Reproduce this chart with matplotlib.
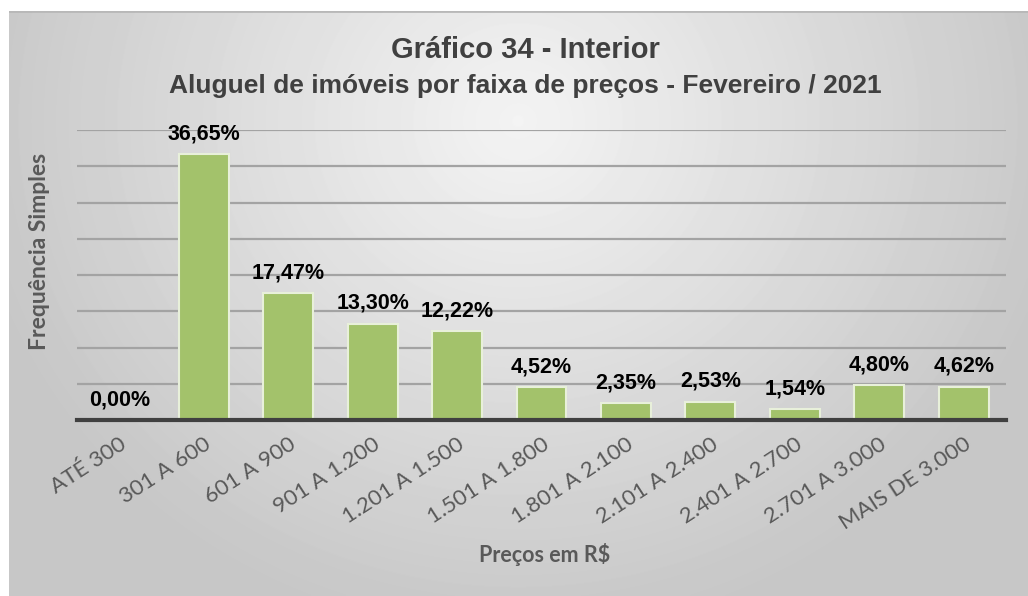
import numpy as np
import matplotlib.pyplot as plt

# Dados do gráfico
faixas = [
    "ATÉ 300", "301 A 600", "601 A 900", "901 A 1.200", "1.201 A 1.500",
    "1.501 A 1.800", "1.801 A 2.100", "2.101 A 2.400", "2.401 A 2.700",
    "2.701 A 3.000", "MAIS DE 3.000",
]
percentuais = [0.00, 36.65, 17.47, 13.30, 12.22, 4.52, 2.35, 2.53, 1.54, 4.80, 4.62]
rotulos = [f"{v:.2f}%".replace(".", ",") for v in percentuais]

W, H = 1028, 596
fig = plt.figure(figsize=(W / 100, H / 100), dpi=100)
fig.patch.set_facecolor("white")

# Fundo com degradê (área do gráfico)
bg = fig.add_axes([9 / W, 0, 1 - 9 / W, 1 - 11 / H])
yy, xx = np.mgrid[0:585, 0:1019]
d = np.sqrt(((xx - 509) / 600.0) ** 2 + ((yy - 110) / 560.0) ** 2)
val = np.clip(0.955 - 0.19 * d, 0.78, 1.0)
bg.imshow(val, cmap="gray", vmin=0, vmax=1, aspect="auto",
          extent=[0, 1, 0, 1], interpolation="bilinear")
bg.axhline(1, color="#b8b8b8", lw=2)
bg.axis("off")

# Eixo principal
ax = fig.add_axes([77 / W, (H - 420) / H, 929 / W, 290 / H])
ax.patch.set_alpha(0)
x = np.arange(len(faixas))
bars = ax.bar(x, percentuais, width=0.59, color="#a3c26b",
              edgecolor="#e8f0da", linewidth=1.5, zorder=3)

ax.set_ylim(0, 40)
ax.set_xlim(-0.5, len(faixas) - 0.5)
ax.set_yticks(np.arange(5, 41, 5))
ax.yaxis.grid(True, color="#a3a3a3", lw=1.6, zorder=0)
ax.tick_params(axis="y", left=False, labelleft=False)
ax.tick_params(axis="x", length=0, pad=10)
for s in ["top", "right", "left"]:
    ax.spines[s].set_visible(False)
ax.spines["bottom"].set_color("#404040")
ax.spines["bottom"].set_linewidth(3)
ax.spines["bottom"].set_zorder(4)

ax.set_xticks(x)
ax.set_xticklabels(faixas, rotation=33, ha="right", va="top",
                   rotation_mode="anchor", fontsize=16, family="Lato",
                   color="#595959")

# Rótulos de dados
for b, r in zip(bars, rotulos):
    ax.annotate(r, (b.get_x() + b.get_width() / 2, b.get_height()),
                xytext=(0, 7), textcoords="offset points",
                ha="center", va="bottom", fontsize=15.5, fontweight="bold",
                family="Liberation Sans", color="black")

# Títulos
fig.text(525 / W, 1 - 50 / H, "Gráfico 34 - Interior", ha="center", va="center",
         fontsize=21, fontweight="bold", family="Liberation Sans", color="#404040")
fig.text(525 / W, 1 - 86 / H, "Aluguel de imóveis por faixa de preços - Fevereiro / 2021",
         ha="center", va="center", fontsize=19, fontweight="bold",
         family="Liberation Sans", color="#404040")

# Rótulos dos eixos
fig.text(40 / W, 1 - 251 / H, "Frequência Simples", rotation=90, ha="center",
         va="center", fontsize=16.5, fontweight="bold", family="Lato", color="#595959")
fig.text(545 / W, 1 - 555 / H, "Preços em R$", ha="center", va="center",
         fontsize=15.5, fontweight="bold", family="Lato", color="#595959")

fig.savefig("out.png", dpi=100)
